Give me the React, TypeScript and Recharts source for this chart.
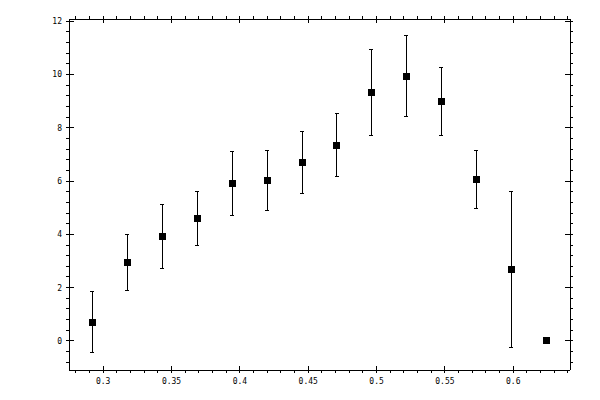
import { ScatterChart, Scatter, XAxis, YAxis, ErrorBar } from 'recharts'

const xs = [0.292, 0.3176, 0.3432, 0.3688, 0.3944, 0.42, 0.4456, 0.4708, 0.4961, 0.5217, 0.5473, 0.5729, 0.5985, 0.6241]
const ys = [0.7, 2.95, 3.93, 4.6, 5.91, 6.03, 6.7, 7.34, 9.33, 9.93, 8.99, 6.06, 2.69, 0]
const errs = [1.14, 1.05, 1.2, 1.0, 1.21, 1.12, 1.16, 1.18, 1.62, 1.52, 1.28, 1.1, 2.92, 0]

const xMajor = [0.3, 0.35, 0.4, 0.45, 0.5, 0.55, 0.6]
const xTicks = [
  0.28, 0.29, 0.3, 0.31, 0.32, 0.33, 0.34, 0.35, 0.36, 0.37, 0.38, 0.39, 0.4,
  0.41, 0.42, 0.43, 0.44, 0.45, 0.46, 0.47, 0.48, 0.49, 0.5, 0.51, 0.52, 0.53,
  0.54, 0.55, 0.56, 0.57, 0.58, 0.59, 0.6, 0.61, 0.62, 0.63, 0.64,
]
const yMajor = [0, 2, 4, 6, 8, 10, 12]
const yTicks = [
  -0.8, -0.4, 0, 0.4, 0.8, 1.2, 1.6, 2, 2.4, 2.8, 3.2, 3.6, 4, 4.4, 4.8, 5.2,
  5.6, 6, 6.4, 6.8, 7.2, 7.6, 8, 8.4, 8.8, 9.2, 9.6, 10, 10.4, 10.8, 11.2, 11.6, 12,
]

const data = xs.map((x, i) => ({ x, y: ys[i], err: errs[i] }))

const font = { fontFamily: '"DejaVu Sans Mono", monospace', fontSize: 8, fill: '#000' }

const BottomTick = ({ x, y, payload }: any) => {
  const major = xMajor.includes(payload.value)
  return (
    <g>
      <line x1={x} x2={x} y1={major ? y - 4 : y} y2={y + 3} stroke="#000" />
      {major && (
        <text x={x} y={y + 14} textAnchor="middle" {...font}>
          {payload.value}
        </text>
      )}
    </g>
  )
}

const TopTick = ({ x, y, payload }: any) => {
  const major = xMajor.includes(payload.value)
  return <line x1={x} x2={x} y1={y - 3} y2={major ? y + 4 : y} stroke="#000" />
}

const LeftTick = ({ x, y, payload }: any) => {
  const major = yMajor.includes(payload.value)
  return (
    <g>
      <line x1={x - 3} x2={major ? x + 5 : x} y1={y} y2={y} stroke="#000" />
      {major && (
        <text x={x - 7} y={y + 3} textAnchor="end" {...font}>
          {payload.value}
        </text>
      )}
    </g>
  )
}

const RightTick = ({ x, y, payload }: any) => {
  const major = yMajor.includes(payload.value)
  return <line x1={major ? x - 5 : x} x2={x + 3} y1={y} y2={y} stroke="#000" />
}

const Square = ({ cx, cy }: any) => (
  <rect x={cx - 3.5} y={cy - 3.5} width={7} height={7} fill="#000" />
)

export default function App() {
  return (
    <div
      style={{
        position: 'absolute',
        left: 0,
        top: 0,
        background: '#fff',
        shapeRendering: 'crispEdges',
      }}
    >
      <ScatterChart
        width={600}
        height={400}
        margin={{ top: 0, right: 0, bottom: 0, left: 0 }}
      >
        <XAxis
          dataKey="x"
          type="number"
          domain={[0.275, 0.6415]}
          allowDataOverflow
          ticks={xTicks}
          interval={0}
          height={30}
          tickSize={0}
          tickMargin={0}
          tick={<BottomTick />}
          axisLine={{ stroke: '#000' }}
        />
        <XAxis
          xAxisId="top"
          orientation="top"
          dataKey="x"
          type="number"
          domain={[0.275, 0.6415]}
          allowDataOverflow
          ticks={xTicks}
          interval={0}
          height={19}
          tickSize={0}
          tickMargin={0}
          tick={<TopTick />}
          axisLine={{ stroke: '#000' }}
        />
        <YAxis
          dataKey="y"
          type="number"
          domain={[-1.09, 12.08]}
          allowDataOverflow
          ticks={yTicks}
          interval={0}
          width={69}
          tickSize={0}
          tickMargin={0}
          tick={<LeftTick />}
          axisLine={{ stroke: '#000' }}
        />
        <YAxis
          yAxisId="right"
          orientation="right"
          dataKey="y"
          type="number"
          domain={[-1.09, 12.08]}
          allowDataOverflow
          ticks={yTicks}
          interval={0}
          width={30}
          tickSize={0}
          tickMargin={0}
          tick={<RightTick />}
          axisLine={{ stroke: '#000' }}
        />
        <Scatter data={data} shape={<Square />} isAnimationActive={false}>
          <ErrorBar dataKey="err" direction="y" width={2} stroke="#000" strokeWidth={1} />
        </Scatter>
      </ScatterChart>
    </div>
  )
}
